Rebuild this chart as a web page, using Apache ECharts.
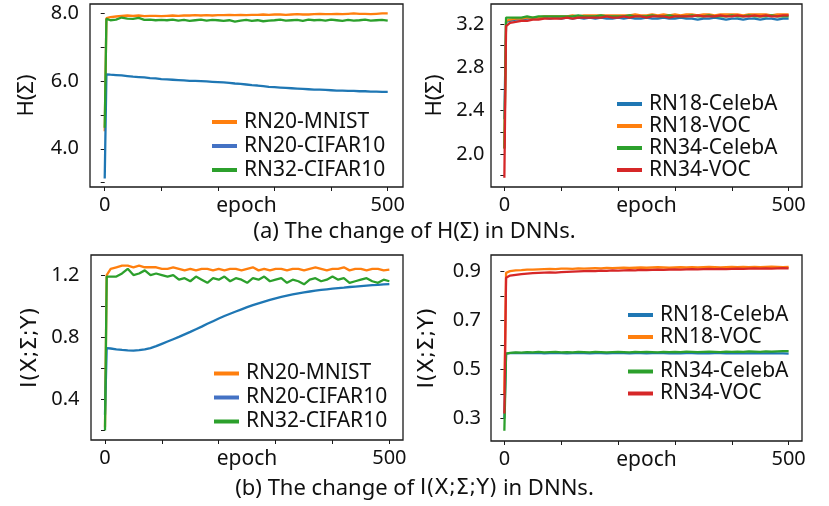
<!DOCTYPE html>
<html><head><meta charset="utf-8">
<script src="https://cdn.jsdelivr.net/npm/echarts@6/dist/echarts.min.js"></script>
<style>html,body{margin:0;padding:0;background:#fff}#c{width:829px;height:506px}</style>
</head><body><div id="c"></div>
<script>
const epochs = [0,3,10,20,30,40,50,60,70,80,90,100,110,120,130,140,150,160,170,180,190,200,210,220,230,240,250,260,270,280,290,300,310,320,330,340,350,360,370,380,390,400,410,420,430,440,450,460,470,480,490,500];
const xTicks = [0,100,200,300,400,500];
const xLabels = [0,500];

// Panel (a) left: H(Sigma)
const hRN20MNIST = [4.52,7.86,
 7.89,7.91,7.93,7.94,7.93,7.94,7.92,7.93,7.93,7.92,
 7.93,7.94,7.93,7.94,7.94,7.95,7.94,7.95,7.94,7.95,
 7.95,7.96,7.95,7.96,7.95,7.96,7.96,7.97,7.96,7.97,
 7.97,7.96,7.97,7.98,7.97,7.97,7.98,7.99,7.98,7.98,
 7.99,7.98,7.99,8.00,7.99,7.99,7.98,7.99,8.00,8.00];
const hRN20CIFAR = [3.12,6.20,
 6.19,6.18,6.17,6.15,6.13,6.12,6.11,6.09,6.08,6.06,
 6.05,6.04,6.03,6.02,6.01,6.01,6.00,5.99,5.98,5.97,
 5.96,5.95,5.93,5.92,5.90,5.88,5.87,5.85,5.83,5.82,
 5.81,5.80,5.79,5.78,5.77,5.76,5.75,5.75,5.74,5.73,
 5.72,5.72,5.71,5.71,5.70,5.70,5.69,5.69,5.68,5.68];
const hRN32CIFAR = [4.62,7.84,
 7.80,7.82,7.88,7.85,7.84,7.87,7.81,7.82,7.80,7.81,
 7.80,7.82,7.79,7.81,7.78,7.80,7.82,7.79,7.81,7.80,
 7.78,7.80,7.76,7.79,7.81,7.78,7.80,7.77,7.79,7.80,
 7.82,7.79,7.80,7.81,7.78,7.82,7.80,7.81,7.79,7.82,
 7.80,7.78,7.81,7.79,7.80,7.82,7.79,7.80,7.81,7.79];

// Panel (a) right
const hRN18CelebA = [2.32,3.22,
 3.23,3.24,3.24,3.25,3.25,3.25,3.26,3.25,3.26,3.25,
 3.26,3.25,3.26,3.25,3.26,3.25,3.26,3.25,3.25,3.26,
 3.25,3.26,3.25,3.25,3.26,3.25,3.25,3.26,3.25,3.25,
 3.26,3.25,3.25,3.24,3.25,3.25,3.26,3.25,3.24,3.25,
 3.25,3.24,3.25,3.25,3.24,3.25,3.25,3.24,3.25,3.25];
const hRN18VOC = [2.05,3.23,
 3.24,3.25,3.25,3.26,3.26,3.26,3.27,3.27,3.27,3.27,
 3.27,3.28,3.27,3.28,3.28,3.28,3.28,3.28,3.28,3.28,
 3.28,3.28,3.29,3.28,3.28,3.29,3.28,3.29,3.28,3.29,
 3.28,3.29,3.29,3.28,3.29,3.29,3.28,3.29,3.29,3.29,
 3.29,3.28,3.29,3.29,3.29,3.29,3.28,3.29,3.29,3.29];
const hRN34CelebA = [2.05,3.26,
 3.26,3.26,3.26,3.27,3.26,3.27,3.27,3.27,3.27,3.27,
 3.27,3.27,3.28,3.27,3.27,3.27,3.28,3.27,3.27,3.27,
 3.27,3.28,3.27,3.27,3.27,3.28,3.27,3.27,3.28,3.27,
 3.27,3.27,3.28,3.27,3.27,3.28,3.27,3.27,3.27,3.28,
 3.27,3.27,3.28,3.27,3.27,3.27,3.28,3.27,3.27,3.27];
const hRN34VOC = [1.78,3.18,
 3.21,3.22,3.23,3.23,3.24,3.24,3.25,3.25,3.25,3.25,
 3.26,3.25,3.26,3.26,3.26,3.26,3.26,3.27,3.26,3.26,
 3.27,3.26,3.27,3.27,3.26,3.27,3.27,3.27,3.26,3.27,
 3.27,3.27,3.27,3.28,3.27,3.27,3.27,3.28,3.27,3.27,
 3.28,3.27,3.27,3.28,3.27,3.28,3.27,3.27,3.28,3.28];

// Panel (b) left: I(X;Sigma;Y)
const iRN20MNIST = [0.22,1.20,
 1.24,1.25,1.26,1.26,1.25,1.26,1.25,1.25,1.25,1.24,
 1.24,1.25,1.24,1.23,1.24,1.23,1.24,1.24,1.23,1.24,
 1.23,1.24,1.24,1.23,1.24,1.25,1.23,1.24,1.23,1.24,
 1.24,1.23,1.24,1.24,1.23,1.24,1.25,1.24,1.23,1.24,
 1.24,1.25,1.23,1.24,1.24,1.23,1.24,1.24,1.23,1.235];
const iRN20CIFAR = [0.30,0.73,
 0.727,0.722,0.718,0.715,0.714,0.716,0.721,0.730,0.742,0.757,
 0.772,0.787,0.802,0.818,0.834,0.851,0.868,0.886,0.903,0.920,
 0.936,0.951,0.965,0.979,0.993,1.006,1.018,1.029,1.040,1.050,
 1.059,1.067,1.075,1.082,1.088,1.094,1.099,1.104,1.108,1.112,
 1.116,1.119,1.123,1.126,1.129,1.132,1.135,1.137,1.140,1.142];
const iRN32CIFAR = [0.20,1.19,
 1.19,1.19,1.21,1.24,1.20,1.21,1.23,1.20,1.21,1.20,
 1.19,1.20,1.17,1.18,1.16,1.19,1.17,1.15,1.18,1.17,
 1.19,1.16,1.18,1.17,1.15,1.18,1.17,1.19,1.16,1.17,
 1.18,1.15,1.17,1.16,1.14,1.17,1.18,1.16,1.17,1.19,
 1.17,1.18,1.15,1.16,1.17,1.18,1.16,1.15,1.17,1.16];

// Panel (b) right
const iRN18CelebA = [0.30,0.565,
 0.567,0.568,0.567,0.568,0.567,0.568,0.566,0.567,0.568,0.567,
 0.566,0.567,0.568,0.567,0.566,0.567,0.567,0.566,0.567,0.568,
 0.567,0.566,0.567,0.567,0.566,0.567,0.568,0.567,0.566,0.567,
 0.566,0.567,0.567,0.566,0.567,0.566,0.567,0.567,0.566,0.566,
 0.567,0.566,0.566,0.567,0.566,0.566,0.567,0.566,0.566,0.565];
const iRN18VOC = [0.40,0.895,
 0.902,0.905,0.906,0.908,0.908,0.909,0.910,0.911,0.910,0.912,
 0.912,0.911,0.913,0.912,0.913,0.914,0.913,0.915,0.914,0.915,
 0.916,0.915,0.916,0.917,0.916,0.917,0.918,0.917,0.916,0.917,
 0.918,0.917,0.918,0.917,0.918,0.919,0.918,0.917,0.918,0.919,
 0.918,0.919,0.918,0.919,0.918,0.919,0.920,0.919,0.918,0.919];
const iRN34CelebA = [0.25,0.565,
 0.568,0.570,0.569,0.571,0.570,0.572,0.570,0.571,0.572,0.570,
 0.571,0.570,0.572,0.571,0.570,0.572,0.571,0.570,0.571,0.572,
 0.571,0.570,0.572,0.571,0.572,0.571,0.570,0.572,0.571,0.572,
 0.571,0.573,0.572,0.571,0.572,0.573,0.572,0.571,0.573,0.572,
 0.573,0.572,0.574,0.573,0.572,0.574,0.573,0.574,0.575,0.575];
const iRN34VOC = [0.32,0.875,
 0.884,0.887,0.890,0.892,0.894,0.895,0.896,0.897,0.896,0.898,
 0.899,0.900,0.901,0.902,0.903,0.902,0.904,0.903,0.905,0.904,
 0.905,0.906,0.905,0.907,0.906,0.907,0.908,0.907,0.908,0.909,
 0.908,0.909,0.910,0.909,0.910,0.911,0.910,0.911,0.910,0.911,
 0.912,0.911,0.912,0.913,0.912,0.913,0.912,0.913,0.914,0.913];

// Y ticks / labels per panel
const yTicksA = [3,4,5,6,7,8];       const yLabelsA = [4,6,8];
const yTicksB = [1.8,2.0,2.2,2.4,2.6,2.8,3.0,3.2]; const yLabelsB = [2.0,2.4,2.8,3.2];
const yTicksC = [0.2,0.4,0.6,0.8,1.0,1.2]; const yLabelsC = [0.4,0.8,1.2];
const yTicksD = [0.3,0.4,0.5,0.6,0.7,0.8,0.9]; const yLabelsD = [0.3,0.5,0.7,0.9];

const FONT = 'Noto Sans';
const FONT_I = 'DejaVu Sans';
const C_OR = '#ff7f0e', C_BL = '#1f77b4', C_GR = '#2ca02c', C_RD = '#d62728';
const nameH = 'H(Σ)';
const nameI = 'I(X;Σ;Y)';

const chart = echarts.init(document.getElementById('c'), null, {renderer:'canvas'});

const grids = [
  {left:90, top:4, width:313, height:183},
  {left:491, top:4, width:311, height:183},
  {left:91, top:255, width:312, height:185},
  {left:491, top:255, width:311, height:186}
].map(g => Object.assign({show:true, borderColor:'#1a1a1a', borderWidth:1.3, backgroundColor:'transparent'}, g));

const xRanges = [[-26,527],[-23.5,523.5],[-24.6,524],[-23.5,523.5]];
const yRanges = [[2.87,8.28],[1.695,3.385],[0.138,1.329],[0.208,0.968]];
const yTicks = [yTicksA,yTicksB,yTicksC,yTicksD];
const yLabels = [yLabelsA,yLabelsB,yLabelsC,yLabelsD];
const yNames = [nameH,nameH,nameI,nameI];
const yNameFonts = [FONT,FONT,FONT_I,FONT_I];
const yNameSizes = [22,22,22,22];
const yNameGaps = [52,45,50,53];
const yLabelMargins = [11,6.5,11.5,10];

const xAxis = xRanges.map((r,i) => ({
  type:'value', gridIndex:i, min:r[0], max:r[1],
  axisLine:{show:false}, splitLine:{show:false},
  axisTick:{show:true, inside:false, length:4, customValues:xTicks, lineStyle:{color:'#1a1a1a', width:1}},
  axisLabel:{customValues:xLabels, margin:8, fontSize:20, color:'#111', fontFamily:FONT},
  name:'epoch', nameLocation:'middle', nameGap:9, nameMoveOverlap:false,
  nameTextStyle:{fontSize:21, color:'#111', fontFamily:FONT, verticalAlign:'top'}
}));
const yAxis = yRanges.map((r,i) => ({
  type:'value', gridIndex:i, min:r[0], max:r[1],
  axisLine:{show:false}, splitLine:{show:false},
  axisTick:{show:true, inside:false, length:4, customValues:yTicks[i], lineStyle:{color:'#1a1a1a', width:1}},
  axisLabel:{customValues:yLabels[i], margin:yLabelMargins[i], fontSize:20, color:'#111', fontFamily:FONT,
    formatter: v => Number(v).toFixed(1)},
  name:yNames[i], nameLocation:'middle', nameGap:yNameGaps[i], nameMoveOverlap:false,
  nameTextStyle:{fontSize:yNameSizes[i], color:'#111', fontFamily:yNameFonts[i]}
}));

function mk(name, vals, color, idx) {
  return {type:'line', name, xAxisIndex:idx, yAxisIndex:idx,
    data: epochs.map((e,k)=>[e, vals[k]]),
    symbol:'none', showSymbol:false, smooth:false,
    lineStyle:{width:2.3, color}, itemStyle:{color}, emphasis:{disabled:true}};
}

const series = [
  mk('RN20-MNIST', hRN20MNIST, C_OR, 0),
  mk('RN20-CIFAR10', hRN20CIFAR, C_BL, 0),
  mk('RN32-CIFAR10', hRN32CIFAR, C_GR, 0),
  mk('RN18-CelebA', hRN18CelebA, C_BL, 1),
  mk('RN18-VOC', hRN18VOC, C_OR, 1),
  mk('RN34-CelebA', hRN34CelebA, C_GR, 1),
  mk('RN34-VOC', hRN34VOC, C_RD, 1),
  mk('RN20-MNIST', iRN20MNIST, C_OR, 2),
  mk('RN20-CIFAR10', iRN20CIFAR, C_BL, 2),
  mk('RN32-CIFAR10', iRN32CIFAR, C_GR, 2),
  mk('RN18-CelebA', iRN18CelebA, C_BL, 3),
  mk('RN18-VOC', iRN18VOC, C_OR, 3),
  mk('RN34-CelebA', iRN34CelebA, C_GR, 3),
  mk('RN34-VOC', iRN34VOC, C_RD, 3)
];

function lg(left, top, gap, items) {
  return {left, top, orient:'vertical', itemGap:gap, itemWidth:25, itemHeight:4, icon:'rect',
    selectedMode:false, padding:0,
    textStyle:{fontSize:21, lineHeight:21, color:'#111', fontFamily:FONT, padding:[0,0,0,2]},
    data: items};
}
const legendBlueLeft = {color:'#4472c4'};

const capStyle = {fontSize:22, fontWeight:'normal', color:'#111', fontFamily:FONT,
  rich:{i:{fontSize:21, fontFamily:FONT_I, color:'#111'}}};

const option = {
  animation:false,
  textStyle:{fontFamily:FONT},
  title:[
    {text:'(a) The change of ' + nameH + ' in DNNs.', left:'center', top:221, padding:0, textStyle:capStyle},
    {text:'(b) The change of {i|' + nameI + '} in DNNs.', left:'center', top:478, padding:0, textStyle:capStyle}
  ],
  grid: grids, xAxis, yAxis, series,
  legend:[
    lg(212, 111.5, 3, [{name:'RN20-MNIST'},{name:'RN20-CIFAR10', itemStyle:legendBlueLeft},{name:'RN32-CIFAR10'}]),
    lg(617, 93.5, 1, [{name:'RN18-CelebA'},{name:'RN18-VOC'},{name:'RN34-CelebA'},{name:'RN34-VOC'}]),
    lg(214, 363, 3, [{name:'RN20-MNIST'},{name:'RN20-CIFAR10', itemStyle:legendBlueLeft},{name:'RN32-CIFAR10'}]),
    lg(628, 304.5, 1, [{name:'RN18-CelebA'},{name:'RN18-VOC'}]),
    lg(628, 361, 1, [{name:'RN34-CelebA'},{name:'RN34-VOC'}])
  ]
};
chart.setOption(option);
</script>
</body></html>
